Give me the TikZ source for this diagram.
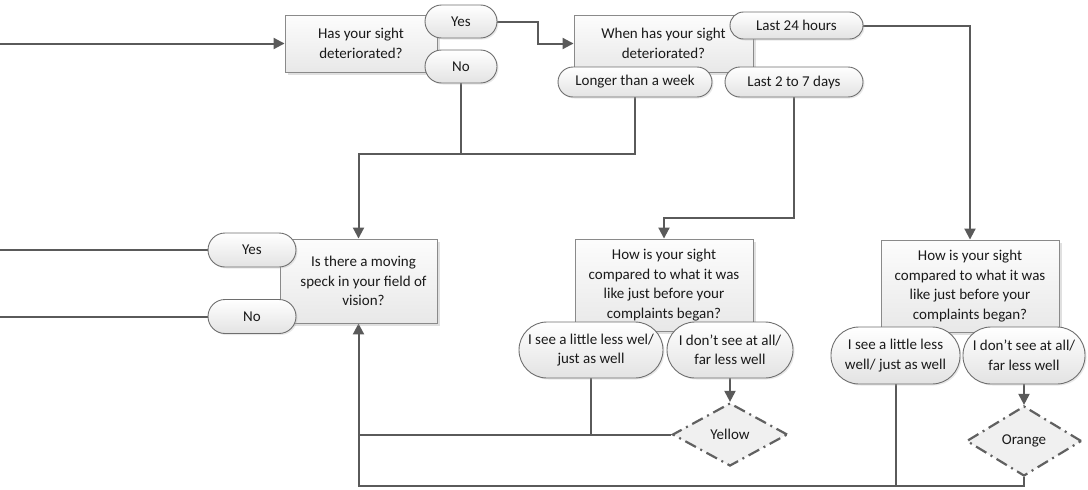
\documentclass[tikz,border=0pt]{standalone}
\usepackage{fontspec}
\setmainfont{Carlito}
\usetikzlibrary{arrows.meta,shapes.geometric,shadows,backgrounds,calc}
\definecolor{linegray}{HTML}{5A5A5A}
\definecolor{boxedge}{HTML}{8A8A8A}
\definecolor{pilledge}{HTML}{6E6E6E}
\definecolor{txt}{HTML}{1A1A1A}
\tikzset{
  every node/.style={font=\fontsize{15}{19.5}\selectfont, text=txt, align=center, inner sep=0pt},
  question/.style={rectangle, draw=boxedge, line width=0.9pt,
    top color=black!1, bottom color=black!9,
    drop shadow={shadow xshift=2.5pt, shadow yshift=-2.5pt, fill=black!35, opacity=0.35}},
  answer/.style={rectangle, draw=pilledge, line width=0.9pt,
    top color=white, bottom color=black!11,
    drop shadow={shadow xshift=1.5pt, shadow yshift=-1.5pt, fill=black!30, opacity=0.3}},
  outcome/.style={diamond, draw=black!62, line width=2.2pt,
    dash pattern=on 12pt off 5pt on 2pt off 5pt, fill=black!6},
  flow/.style={draw=linegray, line width=2pt},
  arrow/.style={flow, -{Triangle[length=11pt,width=11pt]}}
}
\begin{document}
\begin{tikzpicture}[x=1pt,y=-1pt]
\useasboundingbox (0,0) rectangle (1088,490);

% questions
\node[question, minimum width=152, minimum height=57] (q1) at (361,43.5)
  {Has your sight\\deteriorated?};
\node[question, minimum width=179, minimum height=57] (q2) at (663.5,43.5)
  {When has your sight\\deteriorated?};
\node[question, minimum width=157, minimum height=84] (q3) at (358.5,281)
  {\hspace*{10pt}Is there a moving\\\hspace*{10pt}speck in your field of\\\hspace*{10pt}vision?};
\node[question, minimum width=178, minimum height=92] (q4) at (664,285)
  {How is your sight\\compared to what it was\\like just before your\\complaints began?};
\node[question, minimum width=178, minimum height=92] (q5) at (970,286)
  {How is your sight\\compared to what it was\\like just before your\\complaints began?};

% answers
\node[answer, rounded corners=16.5, minimum width=72, minimum height=33] (yes1) at (461,21.5) {Yes};
\node[answer, rounded corners=16.5, minimum width=72, minimum height=33] (no1) at (461,66.5) {No};
\node[answer, rounded corners=13.5, minimum width=133, minimum height=27] (h24) at (796.5,25.5) {Last 24 hours};
\node[answer, rounded corners=15, minimum width=154, minimum height=30] (week) at (635,82) {Longer than a week};
\node[answer, rounded corners=15, minimum width=138, minimum height=30] (days) at (794,82) {Last 2 to 7 days};
\node[answer, rounded corners=17, minimum width=88, minimum height=34] (yes2) at (252,250) {Yes};
\node[answer, rounded corners=17, minimum width=88, minimum height=34] (no2) at (252,316.5) {No};
\node[answer, rounded corners=28, minimum width=144, minimum height=56] (a4) at (591,350)
  {I see a little less wel/\\just as well};
\node[answer, rounded corners=28, minimum width=126, minimum height=56] (b4) at (730,350)
  {I don’t see at all/\\far less well};
\node[answer, rounded corners=28, minimum width=129, minimum height=57] (a5) at (895.5,355.5)
  {I see a little less\\well/ just as well};
\node[answer, rounded corners=28, minimum width=122, minimum height=57] (b5) at (1024,355.5)
  {I don’t see at all/\\far less well};

% outcomes
\node[outcome, minimum width=115, minimum height=63] (yellow) at (730,434.5) {Yellow};
\node[outcome, minimum width=115, minimum height=70] (orange) at (1024,441) {Orange};

% loose ends and junctions
\coordinate (in1) at (0,43.5);
\coordinate (in2) at (0,250);
\coordinate (in3) at (0,316.5);
\coordinate (jn) at (358.5,154);
\coordinate (jd) at (794,218);
\coordinate (jb) at (358.5,486);

\begin{scope}[on background layer]
  \draw[arrow] (in1) -- (q1.west);
  \draw[arrow] (yes1.east) -- ++(41,0) |- (q2.west);
  \draw[flow] (in2) -- (yes2.west);
  \draw[flow] (in3) -- (no2.west);
  \draw[flow] (no1.south) -- (no1.south |- jn);
  \draw[arrow] (week.south) |- (jn) -- (q3.north);
  \draw[arrow] (days.south) -- (jd) -| (q4.north);
  \draw[arrow] (h24.east) -| (q5.north);
  \draw[arrow] (b4.south) -- (yellow.north);
  \draw[arrow] (b5.south) -- (orange.north);
  \draw[flow] (a4.south) -- (a4.south |- yellow.west);
  \draw[flow] (yellow.west) -- (yellow.west -| q3.south);
  \draw[flow] (a5.south) -- (a5.south |- jb);
  \draw[arrow] (orange.south) |- (jb) -- (q3.south);
\end{scope}
\end{tikzpicture}
\end{document}
